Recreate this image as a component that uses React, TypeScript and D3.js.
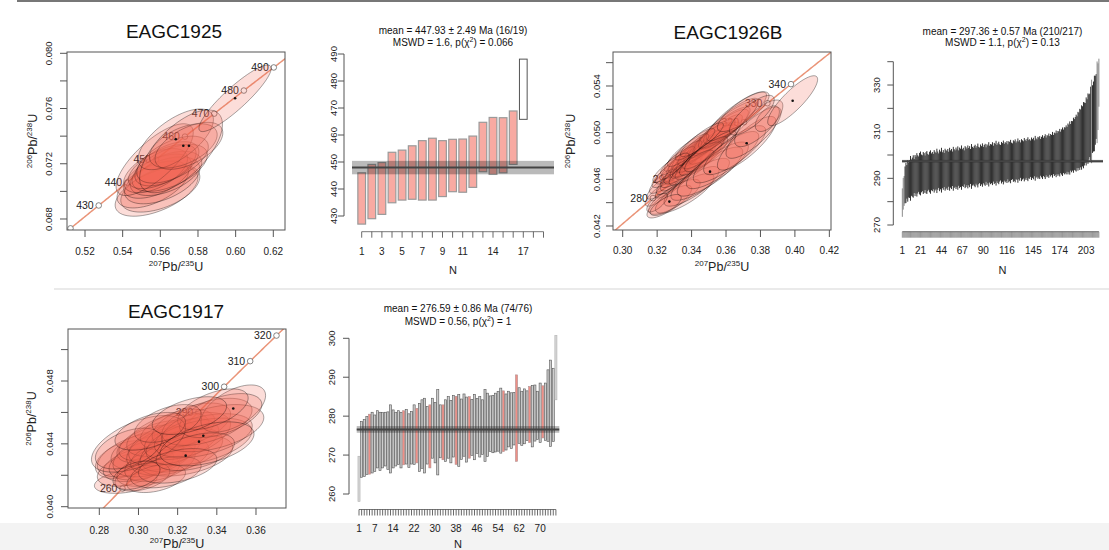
import React from 'react'
import * as d3 from 'd3'

const FONT = '"Liberation Sans", Arial, Helvetica, sans-serif'
// U decay constants, per Ma
const L238 = 1.55125e-4
const L235 = 9.8485e-4

// ---------- EAGC1925 ----------
// ellipses: [207Pb/235U, 206Pb/238U, 2s x, 2s y, rho]
const ell1925 = [
  [0.558, 0.07, 0.022, 0.0018, 0.55],
  [0.56, 0.0702, 0.021, 0.0017, 0.5],
  [0.556, 0.0705, 0.019, 0.0017, 0.55],
  [0.561, 0.0708, 0.02, 0.0017, 0.5],
  [0.5585, 0.0711, 0.018, 0.0016, 0.55],
  [0.563, 0.0713, 0.019, 0.0016, 0.5],
  [0.5575, 0.0715, 0.017, 0.0016, 0.55],
  [0.565, 0.0717, 0.02, 0.0017, 0.55],
  [0.561, 0.0718, 0.018, 0.0016, 0.6],
  [0.5635, 0.072, 0.017, 0.0016, 0.55],
  [0.557, 0.0723, 0.0205, 0.0026, 0.75],
  [0.5665, 0.0723, 0.019, 0.0017, 0.55],
  [0.5682, 0.07377, 0.02, 0.0022, 0.65],
  [0.5722, 0.0733, 0.018, 0.0016, 0.5],
  [0.5752, 0.0733, 0.018, 0.0017, 0.55],
  [0.571, 0.0729, 0.022, 0.003, 0.65],
  [0.5997, 0.07674, 0.0192, 0.00241, 0.9],
]
const dots1925 = [12, 13, 14, 16]
const ages1925 = [420, 430, 440, 450, 460, 470, 480, 490]
const xTicks1925 = [0.52, 0.54, 0.56, 0.58, 0.6, 0.62]
const yTicks1925 = [0.068, 0.07, 0.072, 0.074, 0.076, 0.078, 0.08]
const yLabels1925 = [0.068, 0.072, 0.076, 0.08]

const lo1925 = [427.0, 429.0, 430.6, 434.9, 435.9, 436.2, 435.9, 435.9, 437.2, 439.0, 438.8, 440.6, 446.4, 445.4, 446.0, 449.1, 465.8]
const hi1925 = [446.0, 449.1, 449.8, 453.6, 454.4, 456.0, 457.9, 458.8, 457.9, 458.4, 458.5, 459.6, 464.7, 466.5, 466.4, 468.9, 488.1]
const rej1925 = [17]
const nLab1925 = [1, 3, 5, 7, 9, 11, 14, 17]
const wmTicks1925 = [430, 440, 450, 460, 470, 480, 490]

// ---------- EAGC1926B ----------
const ell1926 = [
  [0.322, 0.0448, 0.009, 0.0011, 0.8],
  [0.325, 0.0456, 0.011, 0.0013, 0.85],
  [0.3275, 0.0462, 0.012, 0.0014, 0.86],
  [0.329, 0.0456, 0.01, 0.0012, 0.84],
  [0.33, 0.0468, 0.013, 0.0015, 0.86],
  [0.331, 0.0461, 0.0115, 0.0014, 0.85],
  [0.333, 0.0472, 0.014, 0.0016, 0.87],
  [0.334, 0.0465, 0.012, 0.0015, 0.86],
  [0.3355, 0.0476, 0.013, 0.00155, 0.87],
  [0.3365, 0.047, 0.0145, 0.0017, 0.86],
  [0.338, 0.0479, 0.0125, 0.0015, 0.87],
  [0.339, 0.0474, 0.015, 0.0018, 0.86],
  [0.34, 0.0482, 0.0135, 0.0016, 0.87],
  [0.341, 0.0477, 0.012, 0.0015, 0.86],
  [0.3425, 0.0485, 0.014, 0.0017, 0.87],
  [0.3435, 0.048, 0.016, 0.0019, 0.86],
  [0.3445, 0.0487, 0.0125, 0.0015, 0.88],
  [0.3455, 0.0483, 0.0145, 0.0017, 0.87],
  [0.347, 0.049, 0.015, 0.0018, 0.87],
  [0.348, 0.0485, 0.013, 0.0016, 0.86],
  [0.3495, 0.0492, 0.014, 0.0017, 0.88],
  [0.3505, 0.0488, 0.016, 0.0019, 0.87],
  [0.352, 0.0495, 0.0135, 0.00165, 0.87],
  [0.3535, 0.0491, 0.015, 0.0018, 0.86],
  [0.355, 0.0498, 0.0145, 0.00175, 0.87],
  [0.357, 0.0501, 0.016, 0.0019, 0.87],
  [0.359, 0.0504, 0.015, 0.0018, 0.86],
  [0.361, 0.0507, 0.017, 0.002, 0.87],
  [0.363, 0.051, 0.016, 0.00195, 0.86],
  [0.366, 0.0514, 0.0175, 0.0021, 0.86],
  [0.335, 0.048, 0.011, 0.0013, 0.88],
  [0.332, 0.0476, 0.01, 0.0012, 0.87],
  [0.338, 0.0485, 0.012, 0.0014, 0.88],
  [0.342, 0.049, 0.0115, 0.00135, 0.88],
  [0.346, 0.0494, 0.0125, 0.00145, 0.88],
  [0.328, 0.047, 0.0105, 0.00125, 0.86],
  [0.344, 0.0476, 0.0135, 0.0016, 0.86],
  [0.34, 0.047, 0.013, 0.0015, 0.85],
  [0.347, 0.048, 0.014, 0.00165, 0.86],
  [0.351, 0.0484, 0.015, 0.00175, 0.86],
  [0.3271, 0.04409, 0.013, 0.0014, 0.8],
  [0.33, 0.0445, 0.015, 0.0015, 0.78],
  [0.336, 0.0448, 0.017, 0.0017, 0.8],
  [0.34, 0.0454, 0.016, 0.0017, 0.8],
  [0.345, 0.046, 0.017, 0.0018, 0.8],
  [0.3507, 0.04666, 0.019, 0.0021, 0.82],
  [0.355, 0.0472, 0.018, 0.002, 0.8],
  [0.36, 0.0479, 0.019, 0.0022, 0.82],
  [0.365, 0.0485, 0.018, 0.0021, 0.8],
  [0.372, 0.04909, 0.017, 0.0023, 0.82],
  [0.376, 0.05, 0.016, 0.0022, 0.8],
  [0.379, 0.0508, 0.014, 0.002, 0.75],
  [0.384, 0.0512, 0.007, 0.0011, 0.55],
  [0.3987, 0.05274, 0.0145, 0.00214, 0.85],
  [0.32, 0.044, 0.006, 0.0008, 0.7],
  [0.325, 0.0438, 0.009, 0.0009, 0.7],
  [0.37, 0.0518, 0.015, 0.0017, 0.8],
  [0.375, 0.0515, 0.013, 0.0017, 0.78],
]
const dots1926 = [40, 45, 49, 53]
const ages1926 = [280, 290, 300, 310, 320, 330, 340]
const xTicks1926 = [0.3, 0.32, 0.34, 0.36, 0.38, 0.4, 0.42]
const yTicks1926 = [0.042, 0.044, 0.046, 0.048, 0.05, 0.052, 0.054, 0.056]
const yLabels1926 = [0.042, 0.046, 0.05, 0.054]

const mid1926 = [
  279.6, 283.4, 284.6, 287.2, 288.0, 288.5, 288.9, 289.3, 289.7, 290.0,
  290.3, 290.5, 290.8, 291.0, 291.2, 291.4, 291.5, 291.7, 291.8, 292.0,
  292.1, 292.1, 292.2, 292.3, 292.3, 292.4, 292.4, 292.5, 292.5, 292.6,
  292.7, 292.7, 292.8, 292.9, 292.9, 293.0, 293.1, 293.1, 293.2, 293.3,
  293.3, 293.4, 293.4, 293.5, 293.5, 293.6, 293.6, 293.7, 293.7, 293.8,
  293.8, 293.9, 293.9, 294.0, 294.0, 294.1, 294.1, 294.2, 294.2, 294.3,
  294.3, 294.4, 294.4, 294.5, 294.5, 294.6, 294.6, 294.7, 294.7, 294.8,
  294.8, 294.9, 294.9, 295.0, 295.0, 295.1, 295.1, 295.2, 295.2, 295.3,
  295.3, 295.4, 295.4, 295.5, 295.5, 295.6, 295.6, 295.6, 295.7, 295.7,
  295.8, 295.8, 295.9, 295.9, 296.0, 296.0, 296.1, 296.1, 296.2, 296.3,
  296.3, 296.4, 296.4, 296.5, 296.5, 296.5, 296.6, 296.6, 296.7, 296.7,
  296.8, 296.8, 296.9, 296.9, 297.0, 297.0, 297.1, 297.1, 297.2, 297.2,
  297.3, 297.3, 297.4, 297.4, 297.5, 297.5, 297.6, 297.6, 297.7, 297.7,
  297.8, 297.8, 297.9, 297.9, 298.0, 298.0, 298.1, 298.1, 298.2, 298.2,
  298.3, 298.4, 298.4, 298.5, 298.5, 298.6, 298.6, 298.7, 298.7, 298.8,
  298.9, 298.9, 299.0, 299.1, 299.1, 299.2, 299.3, 299.3, 299.4, 299.5,
  299.6, 299.7, 299.8, 299.9, 300.0, 300.1, 300.2, 300.3, 300.4, 300.5,
  300.6, 300.7, 300.9, 301.0, 301.1, 301.3, 301.4, 301.6, 301.8, 302.0,
  302.2, 302.4, 302.6, 302.8, 303.0, 303.3, 303.6, 303.9, 304.2, 304.5,
  304.8, 305.1, 305.5, 305.9, 306.3, 306.7, 307.1, 307.5, 308.0, 308.5,
  309.0, 309.5, 310.1, 310.7, 311.3, 312.0, 312.7, 313.5, 314.4, 315.4,
  316.5, 317.8, 319.2, 320.8, 322.6, 325.0, 331.0,
]
const err1926 = [
  6.1, 6.8, 6.4, 7.9, 8.6, 7.2, 8.9, 7.5, 8.1, 9.6,
  7.8, 8.4, 9.1, 7.3, 8.8, 7.9, 9.3, 8.2, 7.6, 8.9,
  9.4, 8.1, 7.7, 9.0, 8.5, 7.4, 8.8, 9.2, 8.0, 7.5,
  8.7, 9.3, 7.9, 8.4, 7.6, 9.1, 8.3, 7.8, 9.5, 8.2,
  7.4, 8.9, 8.1, 9.6, 7.7, 8.5, 7.3, 9.0, 8.4, 7.9,
  8.8, 7.5, 9.2, 8.0, 8.6, 7.4, 9.4, 8.3, 7.8, 8.9,
  8.1, 9.3, 7.6, 8.7, 8.2, 9.5, 7.9, 8.4, 7.3, 9.0,
  8.5, 7.8, 9.2, 8.0, 8.8, 7.5, 9.6, 8.3, 7.9, 8.6,
  9.1, 7.7, 8.4, 9.4, 8.0, 7.6, 8.9, 8.2, 9.3, 7.8,
  8.5, 9.0, 7.4, 8.7, 8.1, 9.5, 7.9, 8.6, 8.3, 9.2,
  7.7, 8.8, 8.4, 9.6, 7.8, 8.5, 9.1, 8.0, 7.6, 8.9,
  8.3, 9.4, 7.9, 8.6, 8.2, 9.0, 7.5, 8.8, 8.4, 9.3,
  8.0, 7.7, 8.9, 8.5, 9.2, 7.8, 8.3, 9.5, 8.1, 8.7,
  7.6, 9.0, 8.4, 8.0, 9.3, 8.6, 7.9, 8.8, 9.4, 8.2,
  8.5, 7.8, 9.1, 8.3, 8.9, 7.7, 9.6, 8.4, 8.0, 9.0,
  8.6, 9.2, 7.9, 8.7, 9.4, 8.2, 8.8, 9.6, 8.1, 9.0,
  8.7, 9.5, 8.3, 9.1, 8.6, 9.8, 8.4, 9.3, 8.9, 10.0,
  8.8, 9.6, 9.2, 10.2, 8.9, 9.7, 10.4, 9.3, 10.1, 9.8,
  10.5, 9.6, 10.9, 10.2, 11.4, 10.0, 11.0, 10.6, 11.8, 10.9,
  11.5, 12.2, 11.1, 12.6, 11.9, 13.1, 12.4, 13.8, 12.9, 14.2,
  13.5, 12.8, 14.6, 13.2, 15.1, 14.0, 13.6, 15.8, 17.9, 14.5,
  15.0, 16.2, 14.8, 13.9, 17.5, 14.3, 10.3,
]
const rej1926 = [1, 2, 3, 209, 215, 216, 217]
const nLab1926 = [1, 21, 44, 67, 90, 116, 145, 174, 203]
const wmTicks1926 = [270, 280, 290, 300, 310, 320, 330, 340]
const wmLabels1926 = [270, 290, 310, 330]

// ---------- EAGC1917 ----------
const ell1917 = [
  [0.2935, 0.0416, 0.016, 0.00075, 0.35],
  [0.293, 0.043, 0.015, 0.0012, 0.4],
  [0.296, 0.0424, 0.017, 0.0011, 0.45],
  [0.299, 0.0433, 0.02, 0.0014, 0.5],
  [0.3, 0.0427, 0.018, 0.0011, 0.4],
  [0.302, 0.0436, 0.016, 0.0012, 0.45],
  [0.304, 0.043, 0.019, 0.0013, 0.45],
  [0.306, 0.044, 0.017, 0.0012, 0.5],
  [0.305, 0.0423, 0.016, 0.001, 0.4],
  [0.308, 0.0433, 0.021, 0.0014, 0.45],
  [0.31, 0.0442, 0.02, 0.0013, 0.5],
  [0.311, 0.0428, 0.018, 0.0012, 0.45],
  [0.313, 0.0437, 0.019, 0.0014, 0.45],
  [0.315, 0.0446, 0.021, 0.0014, 0.5],
  [0.316, 0.0432, 0.02, 0.0012, 0.4],
  [0.318, 0.0441, 0.023, 0.0015, 0.5],
  [0.32, 0.0449, 0.019, 0.0013, 0.45],
  [0.322, 0.0436, 0.021, 0.0014, 0.45],
  [0.3241, 0.04325, 0.024, 0.0013, 0.4],
  [0.325, 0.0445, 0.022, 0.0015, 0.5],
  [0.327, 0.0452, 0.02, 0.0014, 0.5],
  [0.3309, 0.04414, 0.027, 0.0015, 0.45],
  [0.3331, 0.04452, 0.025, 0.0014, 0.45],
  [0.335, 0.0454, 0.023, 0.0015, 0.5],
  [0.338, 0.045, 0.026, 0.0015, 0.45],
  [0.3484, 0.04625, 0.0165, 0.0015, 0.55],
  [0.342, 0.0458, 0.021, 0.0014, 0.5],
  [0.338, 0.0462, 0.018, 0.0013, 0.55],
  [0.3, 0.044, 0.024, 0.0018, 0.55],
  [0.295, 0.0437, 0.017, 0.0013, 0.45],
  [0.302, 0.0419, 0.014, 0.0009, 0.4],
  [0.309, 0.0418, 0.015, 0.0009, 0.4],
  [0.314, 0.0422, 0.018, 0.001, 0.4],
  [0.329, 0.0435, 0.02, 0.0012, 0.45],
  [0.32, 0.0426, 0.02, 0.0011, 0.4],
  [0.315, 0.0453, 0.017, 0.0012, 0.5],
  [0.306, 0.0448, 0.018, 0.0012, 0.5],
  [0.299, 0.042, 0.012, 0.0009, 0.4],
  [0.335, 0.044, 0.024, 0.0014, 0.45],
  [0.326, 0.0458, 0.019, 0.0012, 0.5],
]
const dots1917 = [18, 21, 22, 25]
const ages1917 = [260, 270, 280, 290, 300, 310, 320]
const xTicks1917 = [0.28, 0.3, 0.32, 0.34, 0.36]
const yTicks1917 = [0.04, 0.042, 0.044, 0.046, 0.048, 0.05]
const yLabels1917 = [0.04, 0.044, 0.048]

const lo1917 = [
  258.1, 264.3, 264.5, 265.0, 265.1, 265.4, 265.8, 266.7, 266.0, 266.7,
  267.2, 266.3, 265.4, 266.7, 267.2, 267.6, 266.7, 267.5, 267.7, 266.8,
  267.7, 267.6, 268.0, 265.8, 266.6, 265.4, 267.7, 266.7, 269.2, 268.0,
  264.9, 269.3, 268.8, 268.4, 269.2, 268.0, 269.5, 267.6, 267.1, 268.9,
  269.7, 268.2, 269.2, 269.9, 268.8, 270.4, 269.5, 270.2, 268.4, 269.6,
  270.9, 270.6, 270.8, 271.0, 270.5, 270.9, 271.3, 272.1, 271.7, 272.6,
  268.4, 273.0, 272.5, 272.9, 273.7, 273.2, 272.1, 273.6, 274.0, 273.2,
  274.4, 273.8, 273.5, 272.2, 273.5, 284.2,
]
const hi1917 = [
  269.7, 278.6, 279.1, 279.9, 280.5, 281.0, 280.3, 281.4, 281.0, 280.9,
  281.0, 281.1, 282.9, 281.6, 281.0, 281.4, 281.0, 281.4, 281.7, 280.6,
  281.2, 282.9, 282.0, 283.3, 284.2, 284.6, 282.5, 282.9, 284.6, 283.5,
  286.8, 282.9, 282.9, 284.2, 285.0, 284.0, 285.3, 285.1, 285.6, 284.4,
  285.7, 284.9, 285.0, 284.3, 285.6, 284.5, 285.0, 284.2, 286.8, 285.9,
  285.2, 285.3, 285.9, 286.3, 287.2, 286.5, 285.7, 286.4, 286.0, 286.1,
  290.6, 287.3, 286.4, 287.0, 286.5, 287.6, 287.9, 288.0, 286.4, 288.5,
  287.8, 288.5, 291.9, 294.4, 292.3, 300.7,
]
const rej1917 = [1, 76]
const red1917 = [5, 18, 23, 28, 33, 38, 43, 56, 61, 66, 71]
const nLab1917 = [1, 7, 14, 22, 30, 38, 46, 54, 62, 70]
const wmTicks1917 = [260, 270, 280, 290, 300]

function Ratio({ a, b }: { a: string; b: string }) {
  return (
    <>
      <tspan fontSize={8} dy={-5}>{a}</tspan>
      <tspan fontSize={12.5} dy={5}>Pb/</tspan>
      <tspan fontSize={8} dy={-5}>{b}</tspan>
      <tspan fontSize={12.5} dy={5}>U</tspan>
    </>
  )
}

function Concordia(p: any) {
  const [x0, y0, x1, y1] = p.box
  const xs = d3.scaleLinear().domain(p.xDomain).range([x0, x1])
  const ys = d3.scaleLinear().domain(p.yDomain).range([y1, y0])
  const tA = Math.min(Math.log1p(p.xDomain[0]) / L235, Math.log1p(p.yDomain[0]) / L238) - 10
  const tB = Math.max(Math.log1p(p.xDomain[1]) / L235, Math.log1p(p.yDomain[1]) / L238) + 10
  const line = d3.line()
  const conc = line(
    d3.range(tA, tB, 0.5).map((t) => [xs(Math.expm1(L235 * t)), ys(Math.expm1(L238 * t))] as [number, number])
  )
  const closed = d3.line().curve(d3.curveLinearClosed)
  const ellPath = (e: number[]) => {
    const [x, y, ex, ey, r] = e
    const pts = d3.range(72).map((i) => {
      const a = (i / 72) * 2 * Math.PI
      return [
        xs(x + ex * Math.cos(a)),
        ys(y + ey * (r * Math.cos(a) + Math.sqrt(1 - r * r) * Math.sin(a))),
      ] as [number, number]
    })
    return closed(pts) || ''
  }
  const cx = (x0 + x1) / 2
  const cy = (y0 + y1) / 2
  return (
    <g>
      <text x={p.titleX} y={p.titleY} fontSize={19} textAnchor="middle" fill="#111">
        {p.title}
      </text>
      <clipPath id={p.id}>
        <rect x={x0} y={y0} width={x1 - x0} height={y1 - y0} />
      </clipPath>
      <g clipPath={`url(#${p.id})`}>
        <path d={conc || ''} fill="none" stroke="#ea9478" strokeWidth={1.5} />
        {p.ages.map((t: number) => {
          const ax = xs(Math.expm1(L235 * t))
          const ay = ys(Math.expm1(L238 * t))
          return (
            <g key={t}>
              <circle cx={ax} cy={ay} r={2.8} fill="#fff" stroke="#666" strokeWidth={0.8} />
              <text x={ax - 5} y={ay} dy="0.35em" textAnchor="end" fontSize={10.5} fill="#222">
                {t}
              </text>
            </g>
          )
        })}
        {p.ellipses.map((e: number[], i: number) => (
          <path key={i} d={ellPath(e)} fill="rgba(240,100,80,0.22)" stroke="rgba(0,0,0,0.38)" strokeWidth={0.9} />
        ))}
        {p.dots.map((i: number) => (
          <circle key={i} cx={xs(p.ellipses[i][0])} cy={ys(p.ellipses[i][1])} r={1.3} fill="#111" />
        ))}
      </g>
      <rect x={x0} y={y0} width={x1 - x0} height={y1 - y0} fill="none" stroke="#555" strokeWidth={1} />
      {p.xTicks.map((v: number) => (
        <g key={v}>
          <line x1={xs(v)} x2={xs(v)} y1={y1} y2={y1 + 7} stroke="#555" />
          <text x={xs(v)} y={p.xLabY} fontSize={10} textAnchor="middle" fill="#222">
            {d3.format('.2f')(v)}
          </text>
        </g>
      ))}
      {p.yTicks.map((v: number) => (
        <line key={v} x1={x0 - 7} x2={x0} y1={ys(v)} y2={ys(v)} stroke="#555" />
      ))}
      {p.yLabels.map((v: number) => (
        <text
          key={v}
          transform={`translate(${p.yLabX},${ys(v)}) rotate(-90)`}
          dy="0.35em"
          fontSize={9.5}
          textAnchor="middle"
          fill="#222"
        >
          {d3.format('.3f')(v)}
        </text>
      ))}
      <text x={cx} y={p.xTitleY} textAnchor="middle" fill="#222">
        <Ratio a="207" b="235" />
      </text>
      <text transform={`translate(${p.yTitleX},${cy}) rotate(-90)`} textAnchor="middle" fill="#222">
        <Ratio a="206" b="238" />
      </text>
    </g>
  )
}

const barStyles: any = {
  salmon: { acc: ['#f8aaa2', '#9a9a9a', 1.2], rej: ['#ffffff', '#555', 1] },
  dark: { acc: ['#1f1f1f', 'none', 0], rej: ['#808080', 'none', 0] },
  gray: { acc: ['#cdcdcd', '#555', 0.6], rej: ['#d6d6d6', '#b0b0b0', 0.6], red: ['#ef8f86', '#b09090', 0.6] },
}

function WeightedMean(p: any) {
  const xs = d3.scaleLinear().domain([1, p.n]).range(p.xRange)
  const ys = d3.scaleLinear().domain(p.yDomain).range(p.yRange)
  const [l, r] = p.region
  const mid = (l + r) / 2
  const st = barStyles[p.style]
  const idx = d3.range(1, p.n + 1)
  return (
    <g>
      <text x={mid} y={p.t1Y} fontSize={10} textAnchor="middle" fill="#111">
        {p.line1}
      </text>
      <text x={mid} y={p.t2Y} fontSize={10} textAnchor="middle" fill="#111">
        {p.line2a}
        <tspan fontSize={7} dy={-4}>2</tspan>
        <tspan dy={4}>{p.line2b}</tspan>
      </text>
      {p.lo.map((lo: number, i: number) => {
        const k = i + 1
        const s = p.rejected.includes(k) ? st.rej : p.red && p.red.includes(k) ? st.red : st.acc
        return (
          <rect
            key={k}
            x={xs(k) - p.barW / 2}
            y={ys(p.hi[i])}
            width={p.barW}
            height={ys(lo) - ys(p.hi[i])}
            fill={s[0]}
            stroke={s[1]}
            strokeWidth={s[2]}
          />
        )
      })}
      <rect x={l} y={ys(p.mean + p.err)} width={r - l} height={ys(p.mean - p.err) - ys(p.mean + p.err)} fill="rgba(0,0,0,0.27)" />
      <line x1={l} x2={r} y1={ys(p.mean)} y2={ys(p.mean)} stroke="#444" strokeWidth={2} />
      <line x1={p.axisX} x2={p.axisX} y1={ys(p.yTicks[0])} y2={ys(p.yTicks[p.yTicks.length - 1])} stroke="#555" />
      {p.yTicks.map((v: number) => (
        <line key={v} x1={p.axisX - 6} x2={p.axisX} y1={ys(v)} y2={ys(v)} stroke="#555" />
      ))}
      {p.yLabels.map((v: number) => (
        <text key={v} transform={`translate(${p.yLabX},${ys(v)}) rotate(-90)`} dy="0.35em" fontSize={9.5} textAnchor="middle" fill="#222">
          {v}
        </text>
      ))}
      <line x1={xs(1)} x2={xs(p.n)} y1={p.axisY} y2={p.axisY} stroke="#555" strokeWidth={0.8} />
      {idx.map((k) => (
        <line key={k} x1={xs(k)} x2={xs(k)} y1={p.axisY} y2={p.axisY + 6} stroke="#444" strokeWidth={p.n > 100 ? 0.5 : 0.8} />
      ))}
      {p.nLabels.map((k: number) => (
        <text key={k} x={xs(k)} y={p.labY} fontSize={10} textAnchor="middle" fill="#222">
          {k}
        </text>
      ))}
      <text x={mid} y={p.NY} fontSize={11} textAnchor="middle" fill="#222">
        N
      </text>
    </g>
  )
}

export default function App() {
  return (
    <svg
      width={1109}
      height={550}
      style={{ position: 'absolute', left: 0, top: 0, background: '#fff', fontFamily: FONT }}
    >
      <rect x={0} y={523} width={1109} height={27} fill="#f3f3f3" />
      <line x1={17} x2={1109} y1={1} y2={1} stroke="#777" strokeWidth={2} />
      <line x1={54} x2={1109} y1={289} y2={289} stroke="#e3e3e3" strokeWidth={1.5} />

      <Concordia
        id="c1925" title="EAGC1925" titleX={174} titleY={38}
        box={[67, 52, 285, 230]} xDomain={[0.51044, 0.62621]} yDomain={[0.067203, 0.080094]}
        ellipses={ell1925} dots={dots1925} ages={ages1925}
        xTicks={xTicks1925} yTicks={yTicks1925} yLabels={yLabels1925}
        xLabY={255} yLabX={48.5} xTitleY={271} yTitleX={36.5}
      />
      <WeightedMean
        n={19} xRange={[361.7, 543.5]} region={[352, 554]}
        yDomain={[430, 490]} yRange={[216, 54]} yTicks={wmTicks1925} yLabels={wmTicks1925}
        axisX={344} yLabX={333.5} lo={lo1925} hi={hi1925} rejected={rej1925}
        mean={447.93} err={2.49} style="salmon" barW={7.7}
        line1="mean = 447.93 ± 2.49 Ma (16/19)" line2a="MSWD = 1.6, p(χ" line2b=") = 0.066"
        t1Y={34} t2Y={46} axisY={231.7} labY={255} NY={274} nLabels={nLab1925}
      />

      <Concordia
        id="c1926" title="EAGC1926B" titleX={728} titleY={39}
        box={[613, 52, 831, 230]} xDomain={[0.294367, 0.42096]} yDomain={[0.041657, 0.056914]}
        ellipses={ell1926} dots={dots1926} ages={ages1926}
        xTicks={xTicks1926} yTicks={yTicks1926} yLabels={yLabels1926}
        xLabY={254} yLabX={596.7} xTitleY={271} yTitleX={574.5}
      />
      <WeightedMean
        n={217} xRange={[902.3, 1098.9]} region={[902, 1103]}
        yDomain={[270, 340]} yRange={[225, 61.7]} yTicks={wmTicks1926} yLabels={wmLabels1926}
        axisX={893.3} yLabX={877} lo={mid1926.map((m, i) => m - err1926[i])} hi={mid1926.map((m, i) => m + err1926[i])}
        rejected={rej1926} mean={297.36} err={0.57} style="dark" barW={0.9}
        line1="mean = 297.36 ± 0.57 Ma (210/217)" line2a="MSWD = 1.1, p(χ" line2b=") = 0.13"
        t1Y={34.5} t2Y={46} axisY={231.7} labY={254} NY={274} nLabels={nLab1926}
      />

      <Concordia
        id="c1917" title="EAGC1917" titleX={176} titleY={318}
        box={[68, 329, 286, 508]} xDomain={[0.26402, 0.37532]} yDomain={[0.039917, 0.05131]}
        ellipses={ell1917} dots={dots1917} ages={ages1917}
        xTicks={xTicks1917} yTicks={yTicks1917} yLabels={yLabels1917}
        xLabY={534} yLabX={50} xTitleY={547.5} yTitleX={36}
      />
      <WeightedMean
        n={76} xRange={[359, 555.9]} region={[356.7, 559.3]}
        yDomain={[260, 300]} yRange={[494, 338.3]} yTicks={wmTicks1917} yLabels={wmTicks1917}
        axisX={349} yLabX={331.7} lo={lo1917} hi={hi1917} rejected={rej1917} red={red1917}
        mean={276.59} err={0.86} style="gray" barW={2.1}
        line1="mean = 276.59 ± 0.86 Ma (74/76)" line2a="MSWD = 0.56, p(χ" line2b=") = 1"
        t1Y={312} t2Y={324.5} axisY={509.5} labY={532} NY={548} nLabels={nLab1917}
      />
    </svg>
  )
}
